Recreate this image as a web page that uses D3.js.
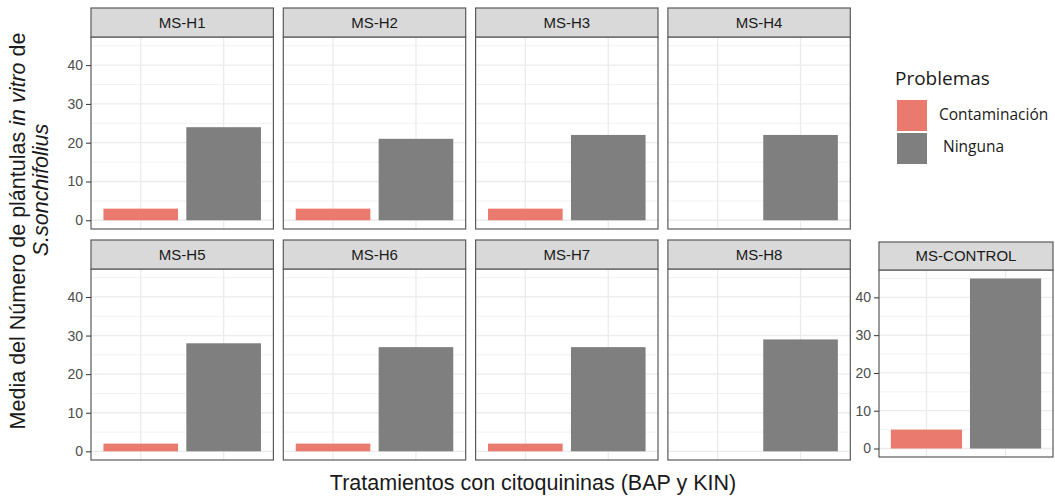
<!DOCTYPE html>
<html>
<head>
<meta charset="utf-8">
<script src="https://cdn.jsdelivr.net/npm/d3@7"></script>
<style>
  body { margin: 0; background: #fff; }
  svg { font-family: "Liberation Sans", Arial, sans-serif; }
</style>
</head>
<body>
<svg id="chart" width="1055" height="498"></svg>
<script>
// data
var panelNames = ["MS-H1", "MS-H2", "MS-H3", "MS-H4", "MS-H5", "MS-H6", "MS-H7", "MS-H8"];
var contaminacion = [3, 3, 3, null, 2, 2, 2, null];
var ninguna = [24, 21, 22, 22, 28, 27, 27, 29];
var controlName = "MS-CONTROL";
var controlValues = [5, 45];
var categories = ["Contaminación", "Ninguna"];
var yTicks = [0, 10, 20, 30, 40];
var yMinor = [5, 15, 25, 35, 45];
var colors = { "Contaminación": "#EA7A6E", "Ninguna": "#7F7F7F" };

var svg = d3.select("#chart");

var panelW = 182.4, step = 192.3, left0 = 91;
var rows = [
    { stripTop: 8, top: 37, bottom: 229 },
    { stripTop: 240, top: 269, bottom: 460 }
];

function drawPanel(name, values, x0, x1, stripTop, top, bottom, showAxis) {
    var x = d3.scaleBand().domain(categories).range([x0, x1])
        .paddingInner(0.1).paddingOuter(0.15);
    var y = d3.scaleLinear().domain([-2.25, 47.25]).range([bottom, top]);

    var g = svg.append("g");

    g.append("rect")
        .attr("x", x0).attr("y", top)
        .attr("width", x1 - x0).attr("height", bottom - top)
        .attr("fill", "#fff");

    // minor grid
    g.selectAll(".minor").data(yMinor).enter().append("line")
        .attr("x1", x0).attr("x2", x1)
        .attr("y1", function(d) { return y(d); })
        .attr("y2", function(d) { return y(d); })
        .attr("stroke", "#F2F2F2").attr("stroke-width", 1);

    // major grid
    g.selectAll(".major").data(yTicks).enter().append("line")
        .attr("x1", x0).attr("x2", x1)
        .attr("y1", function(d) { return y(d); })
        .attr("y2", function(d) { return y(d); })
        .attr("stroke", "#EBEBEB").attr("stroke-width", 1.3);

    g.selectAll(".vgrid").data(categories).enter().append("line")
        .attr("x1", function(d) { return x(d) + x.bandwidth() / 2; })
        .attr("x2", function(d) { return x(d) + x.bandwidth() / 2; })
        .attr("y1", top).attr("y2", bottom)
        .attr("stroke", "#EBEBEB").attr("stroke-width", 1.3);

    // bars
    var barData = categories.map(function(c, i) {
        return { cat: c, value: values[i] };
    }).filter(function(d) { return d.value != null; });

    g.selectAll(".bar").data(barData).enter().append("rect")
        .attr("x", function(d) { return x(d.cat); })
        .attr("width", x.bandwidth())
        .attr("y", function(d) { return y(d.value); })
        .attr("height", function(d) { return y(0) - y(d.value); })
        .attr("fill", function(d) { return colors[d.cat]; });

    // panel border
    g.append("rect")
        .attr("x", x0).attr("y", top)
        .attr("width", x1 - x0).attr("height", bottom - top)
        .attr("fill", "none").attr("stroke", "#5a5a5a").attr("stroke-width", 1.2);

    // strip
    g.append("rect")
        .attr("x", x0).attr("y", stripTop)
        .attr("width", x1 - x0).attr("height", top - stripTop)
        .attr("fill", "#D9D9D9").attr("stroke", "#5a5a5a").attr("stroke-width", 1.2);

    g.append("text")
        .attr("x", (x0 + x1) / 2).attr("y", (stripTop + top) / 2)
        .attr("dy", "0.35em")
        .attr("text-anchor", "middle")
        .attr("font-size", 15)
        .attr("fill", "#1A1A1A")
        .text(name);

    if (showAxis) {
        var ax = g.append("g")
            .attr("transform", "translate(" + x0 + ",0)")
            .call(d3.axisLeft(y).tickValues(yTicks).tickSize(5).tickPadding(3));
        ax.select(".domain").remove();
        ax.selectAll(".tick line").attr("stroke", "#333");
        ax.selectAll(".tick text")
            .attr("font-size", 14)
            .attr("font-family", "Liberation Sans, Arial, sans-serif")
            .attr("fill", "#4D4D4D");
    }
}

panelNames.forEach(function(name, i) {
    var r = rows[Math.floor(i / 4)];
    var col = i % 4;
    var x0 = left0 + col * step;
    drawPanel(name, [contaminacion[i], ninguna[i]], x0, x0 + panelW,
        r.stripTop, r.top, r.bottom, col === 0);
});

// control plot
drawPanel(controlName, controlValues, 879, 1053, 242, 270, 457, true);

// legend
var legend = svg.append("g").attr("font-family", "'Open Sans', Lato, sans-serif");
legend.append("text")
    .attr("x", 895).attr("y", 85)
    .attr("font-size", 19)
    .attr("fill", "#1A1A1A")
    .text("Problemas");

legend.selectAll(".key").data(categories).enter().append("rect")
    .attr("x", 897)
    .attr("y", function(d, i) { return 100 + i * 33; })
    .attr("width", 30).attr("height", 31)
    .attr("fill", function(d) { return colors[d]; });

legend.selectAll(".lab").data(categories).enter().append("text")
    .attr("x", function(d, i) { return i === 0 ? 939 : 943; })
    .attr("y", function(d, i) { return 115 + i * 32; })
    .attr("dy", "0.35em")
    .attr("font-size", 15.5)
    .attr("fill", "#1A1A1A")
    .text(function(d) { return d; });

// axis titles
svg.append("text")
    .attr("x", 533).attr("y", 490)
    .attr("text-anchor", "middle")
    .attr("font-size", 21.5)
    .attr("fill", "#1A1A1A")
    .text("Tratamientos con citoquininas (BAP y KIN)");

var yt1 = svg.append("text")
    .attr("transform", "translate(25,231) rotate(-90)")
    .attr("text-anchor", "middle")
    .attr("font-size", 21.5)
    .attr("fill", "#1A1A1A");
yt1.append("tspan").text("Media del Número de plántulas ");
yt1.append("tspan").attr("font-style", "italic").text("in vitro");
yt1.append("tspan").text(" de");

svg.append("text")
    .attr("transform", "translate(48,190) rotate(-90)")
    .attr("text-anchor", "middle")
    .attr("font-size", 21.5)
    .attr("font-style", "italic")
    .attr("fill", "#1A1A1A")
    .text("S.sonchifolius");
</script>
</body>
</html>
